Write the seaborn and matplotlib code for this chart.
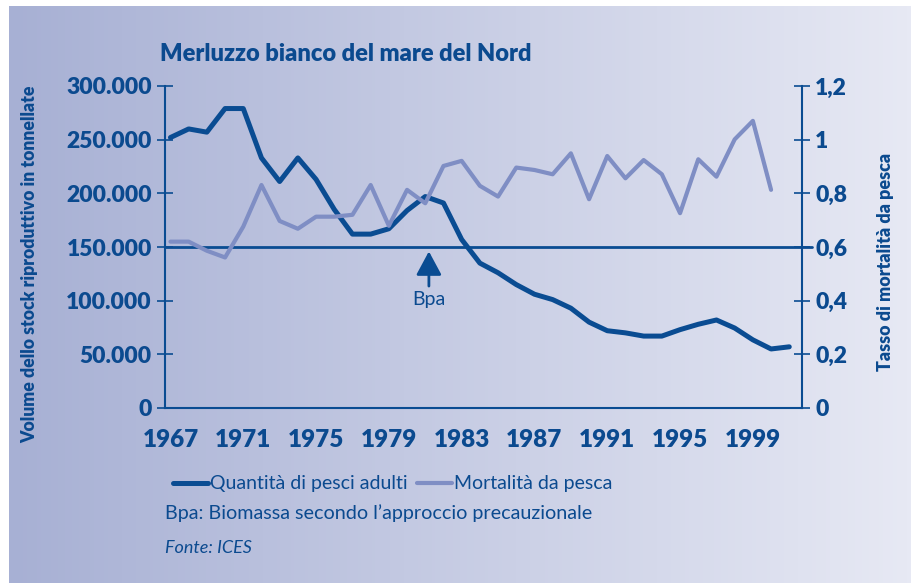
import numpy as np
import pandas as pd
import matplotlib
matplotlib.use("Agg")
import matplotlib.pyplot as plt
import seaborn as sns
from matplotlib.lines import Line2D

# data
anni = list(range(1967, 2002))
biomassa = [252000, 260000, 257000, 279000, 279000, 233000, 211000, 233000, 213000, 185000,
            162000, 162000, 167000, 184000, 197000, 191000, 157000, 135000, 126000, 115000,
            106000, 101000, 93000, 80000, 72000, 70000, 67000, 67000, 73000, 78000,
            82000, 74500, 63500, 55000, 57000]
mortalita = [0.62, 0.62, 0.586, 0.561, 0.676, 0.831, 0.697, 0.668, 0.713, 0.713,
             0.72, 0.831, 0.679, 0.813, 0.763, 0.902, 0.921, 0.828, 0.788, 0.896,
             0.887, 0.871, 0.949, 0.778, 0.939, 0.856, 0.924, 0.871, 0.726, 0.927,
             0.862, 1.001, 1.07, 0.813, np.nan]
anni_etichette = [1967, 1971, 1975, 1979, 1983, 1987, 1991, 1995, 1999]
sx_ticks = [0, 50000, 100000, 150000, 200000, 250000, 300000]
dx_ticks = [0, 0.2, 0.4, 0.6, 0.8, 1.0, 1.2]
bpa = 150000
bpa_anno = 1981.2

df = pd.DataFrame({"anno": anni, "biomassa": biomassa, "mortalita": mortalita})

sns.set_theme(style="white")
plt.rcParams["font.family"] = ["Lato", "DejaVu Sans"]

scuro = "#0a4c92"
chiaro = "#7f8ec4"
testo = "#0b4a8f"
peso = "heavy"

fig = plt.figure(figsize=(9.13, 5.83), dpi=100)
fig.patch.set_facecolor("white")

# gradient background panel
bg = fig.add_axes([9 / 913, 0, 901 / 913, 577 / 583], zorder=-10)
grad = np.linspace(0, 1, 256)
c0 = np.array([167, 176, 212]) / 255
c1 = np.array([231, 233, 244]) / 255
img = c0[None, None, :] * (1 - grad[None, :, None]) + c1[None, None, :] * grad[None, :, None]
bg.imshow(img, aspect="auto", extent=[0, 1, 0, 1])
bg.axis("off")

ax = fig.add_axes([165 / 913, 1 - 408 / 583, 637 / 913, 322 / 583])
ax.patch.set_alpha(0)
ax2 = ax.twinx()

sns.lineplot(data=df, x="anno", y="biomassa", ax=ax, color=scuro, lw=3.6, zorder=3)
sns.lineplot(data=df, x="anno", y="mortalita", ax=ax2, color=chiaro, lw=3.0, zorder=2)

ax.set_xlim(1966.7, 2001.7)
ax.set_ylim(0, 300000)
ax2.set_ylim(0, 1.2)

for a in (ax, ax2):
    for s in ["top", "bottom", "left", "right"]:
        a.spines[s].set_visible(False)
    a.set_xlabel("")
    a.set_ylabel("")

ax.spines["left"].set_visible(True)
ax.spines["bottom"].set_visible(True)
ax2.spines["right"].set_visible(True)
for s in (ax.spines["left"], ax.spines["bottom"], ax2.spines["right"]):
    s.set_color(scuro)
    s.set_linewidth(1.5)

ax.axhline(bpa, color=scuro, lw=2, xmin=0, xmax=1.015, clip_on=False, zorder=1)

# ticks
ax.set_xticks(anni_etichette)
ax.set_xticks(np.arange(1967, 2003) - 0.3, minor=True)
ax.tick_params(axis="x", which="major", length=0, pad=15, labelsize=17.5, labelcolor=testo)
ax.tick_params(axis="x", which="minor", length=11, width=1.2, direction="inout", color=scuro)

ax.set_yticks(sx_ticks)
ax.set_yticklabels([f"{v:,}".replace(",", ".") for v in sx_ticks])
ax.tick_params(axis="y", length=11, width=1.2, direction="inout", color=scuro,
               labelsize=16.5, labelcolor=testo, pad=4, left=True)

ax2.set_yticks(dx_ticks)
ax2.set_yticklabels(["0", "0,2", "0,4", "0,6", "0,8", "1", "1,2"])
ax2.tick_params(axis="y", length=11, width=1.2, direction="inout", color=scuro,
                labelsize=16.5, labelcolor=testo, pad=4, right=True)

for lab in ax.get_xticklabels() + ax.get_yticklabels() + ax2.get_yticklabels():
    lab.set_fontweight(peso)

# arrow + Bpa
ax.annotate("", xy=(bpa_anno, bpa - 1500), xytext=(bpa_anno, 111000),
            arrowprops=dict(arrowstyle="-|>,head_length=1.45,head_width=0.78",
                            mutation_scale=10, lw=2, color=scuro))
ax.text(bpa_anno, 101000, "Bpa", ha="center", va="center", fontsize=14, color=testo)

# texts
fig.text(160 / 913, 1 - 54 / 583, "Merluzzo bianco del mare del Nord", fontsize=17,
         fontweight=peso, color=testo, va="center", ha="left")
fig.text(30 / 913, 1 - 264 / 583, "Volume dello stock riproduttivo in tonnellate", rotation=90,
         fontsize=12.7, fontweight=peso, color=testo, va="center", ha="center")
fig.text(885 / 913, 1 - 262 / 583, "Tasso di mortalità da pesca", rotation=90,
         fontsize=12.9, fontweight=peso, color=testo, va="center", ha="center")

handles = [Line2D([], [], color=scuro, lw=3.6), Line2D([], [], color=chiaro, lw=3.0)]
fig.legend(handles, ["Quantità di pesci adulti", "Mortalità da pesca"], loc="center left",
           bbox_to_anchor=(163 / 913, 1 - 484 / 583), ncol=2, frameon=False, fontsize=14,
           labelcolor=testo, handlelength=1.8, handletextpad=0.1, columnspacing=0.5,
           borderpad=0)
fig.text(165 / 913, 1 - 513 / 583, "Bpa: Biomassa secondo l’approccio precauzionale",
         fontsize=14.2, color=testo, va="center", ha="left")
fig.text(165 / 913, 1 - 548 / 583, "Fonte: ICES", fontsize=13, style="italic",
         color=testo, va="center", ha="left")

fig.savefig("out.png", dpi=100)
